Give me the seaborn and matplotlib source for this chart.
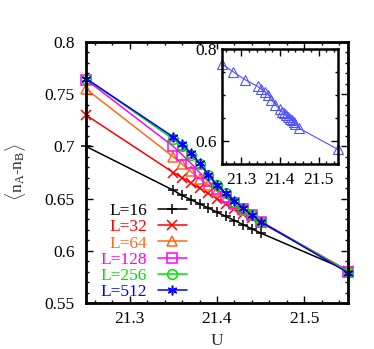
import matplotlib
matplotlib.use('Agg')
import matplotlib.pyplot as plt
import seaborn as sns
from matplotlib.ticker import MultipleLocator

U = [21.25, 21.35, 21.36, 21.37, 21.38, 21.39, 21.40, 21.41, 21.42, 21.43, 21.44, 21.45, 21.55]

L16 = [0.700, 0.658, 0.653, 0.649, 0.645, 0.641, 0.637, 0.633, 0.629, 0.625, 0.621, 0.617, 0.581]
L32 = [0.730, 0.675, 0.670, 0.665, 0.660, 0.655, 0.650, 0.645, 0.640, 0.635, 0.631, 0.627, 0.581]
L64 = [0.755, 0.690, 0.683, 0.676, 0.669, 0.663, 0.657, 0.651, 0.645, 0.639, 0.634, 0.628, 0.581]
L128 = [0.764, 0.700, 0.692, 0.684, 0.675, 0.667, 0.659, 0.652, 0.646, 0.640, 0.634, 0.628, 0.580]
L256 = [0.765, 0.707, 0.700, 0.692, 0.683, 0.673, 0.663, 0.655, 0.647, 0.640, 0.634, 0.628, 0.580]
L512 = [0.765, 0.709, 0.702, 0.694, 0.684, 0.673, 0.663, 0.655, 0.648, 0.641, 0.634, 0.628, 0.579]

LABELS = ['L=16', 'L=32', 'L=64', 'L=128', 'L=256', 'L=512']
COLORS = ['black', '#ff0000', '#ff6a1a', '#ff00ff', '#00e000', '#0000ff']
MARKERS = ['+', 'x', '^', 's', 'o', (6, 2, 0)]

# inset series
U_IN = [21.25, 21.278, 21.31, 21.342, 21.352, 21.360, 21.369, 21.378, 21.388, 21.399,
        21.405, 21.41, 21.415, 21.42, 21.425, 21.43, 21.435, 21.44, 21.449, 21.549]
Y_IN = [0.767, 0.751, 0.733, 0.719, 0.712, 0.707, 0.701, 0.690, 0.679, 0.669,
        0.664, 0.660, 0.656, 0.652, 0.648, 0.645, 0.641, 0.637, 0.628, 0.582]

FS = 12.5

sns.set_style('ticks')
plt.rcParams['font.family'] = ['Liberation Serif', 'DejaVu Serif']
plt.rcParams['mathtext.fontset'] = 'custom'
plt.rcParams['mathtext.rm'] = 'Liberation Serif'
plt.rcParams['mathtext.it'] = 'Liberation Serif:italic'


def style_axes(ax, lw=2.0):
    for s in ax.spines.values():
        s.set_linewidth(lw)
        s.set_color('black')
    ax.tick_params(which='both', direction='in', top=True, right=True,
                   colors='black', labelsize=FS, width=1.0)
    ax.tick_params(which='major', length=5)
    ax.tick_params(which='minor', length=2.5)


fig = plt.figure(figsize=(3.74, 3.49), dpi=100)
ax = fig.add_axes([86 / 374, 1 - 303 / 349, 262 / 374, 261 / 349])

series = [L16, L32, L64, L128, L256, L512]
for ys, lab, c, m in zip(series, LABELS, COLORS, MARKERS):
    open_m = m in ('^', 's', 'o')
    sns.lineplot(x=U, y=ys, ax=ax, color=c, marker=m, markersize=7,
                 markerfacecolor='none' if open_m else c, markeredgecolor=c,
                 markeredgewidth=1.1, linewidth=1.1, label=lab, sort=False,
                 clip_on=False)

ax.set_xlim(21.25, 21.55)
ax.set_ylim(0.55, 0.8)
ax.set_xticks([21.3, 21.4, 21.5])
ax.xaxis.set_minor_locator(MultipleLocator(0.02))
ax.set_yticks([0.55, 0.6, 0.65, 0.7, 0.75, 0.8])
ax.set_yticklabels(['0.55', '0.6', '0.65', '0.7', '0.75', '0.8'])
ax.yaxis.set_minor_locator(MultipleLocator(0.01))
style_axes(ax)
ax.tick_params(axis='y', pad=8)
ax.tick_params(axis='x', pad=6)
ax.set_xlabel('U', fontsize=FS, labelpad=4)
ax.set_ylabel(r'$\langle$n$_\mathrm{A}$-n$_\mathrm{B}\rangle$', fontsize=FS, labelpad=12)

leg = ax.legend(loc='lower left', frameon=False, markerfirst=False, fontsize=FS,
                handlelength=1.7, handletextpad=0.6, labelspacing=0.0,
                borderaxespad=0.0, bbox_to_anchor=(0.03, -0.015))
for t, c in zip(leg.get_texts(), COLORS):
    t.set_color(c)

ins = fig.add_axes([222 / 374, 1 - 164 / 349, 116 / 374, 115 / 349])
sns.lineplot(x=U_IN, y=Y_IN, ax=ins, color='#5050ff', marker='^', markersize=7,
             markerfacecolor='none', markeredgecolor='#5050ff', markeredgewidth=0.8,
             linewidth=0.8, sort=False, clip_on=False)
ins.set_xlim(21.25, 21.55)
ins.set_ylim(0.55, 0.8)
ins.set_xticks([21.3, 21.4, 21.5])
ins.xaxis.set_minor_locator(MultipleLocator(0.02))
ins.set_yticks([0.6, 0.8])
ins.set_yticklabels(['0.6', '0.8'])
ins.yaxis.set_minor_locator(MultipleLocator(0.05))
style_axes(ins, lw=1.8)
ins.tick_params(axis='x', pad=6)
ins.set_xlabel('')
ins.set_ylabel('')

fig.savefig('out.png', dpi=100)
